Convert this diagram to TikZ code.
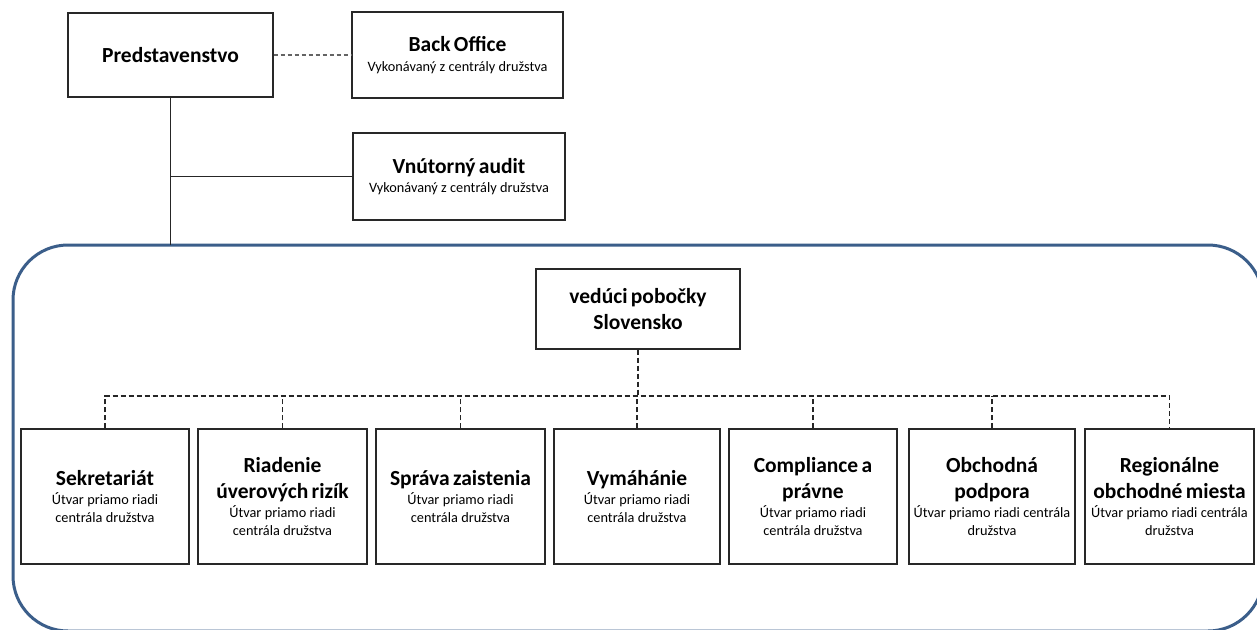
\documentclass[tikz,border=0pt]{standalone}
\usepackage{fontspec}
\setmainfont{Carlito}
\definecolor{frameblue}{RGB}{59,94,138}
\definecolor{boxline}{RGB}{40,40,40}
\definecolor{topdash}{RGB}{100,100,100}
\newcommand{\ttlfont}{\bfseries\fontsize{21.5}{25.5}\selectfont}
\newcommand{\subfont}{\fontsize{14.3}{17.5}\selectfont}
\tikzset{
  orgbox/.style={draw=boxline, line width=1.4pt, fill=white, inner sep=2pt,
    align=center, anchor=center},
  wbox/.style 2 args={orgbox, minimum width=#1pt, text width=#1pt-8pt, minimum height=#2pt},
  solidline/.style={draw=black!85, line width=1.2pt},
  busline/.style={draw=black!85, line width=1.3pt, dash pattern=on 5pt off 3pt},
  greydash/.style={draw=topdash, line width=1.5pt, dash pattern=on 4pt off 3pt},
  frame/.style={draw=frameblue, line width=3pt, rounded corners=55pt}
}
\begin{document}
\begin{tikzpicture}[x=1pt,y=-1pt]
\useasboundingbox (0,0) rectangle (1257,629);
\clip (0,0) rectangle (1257,629);
\fill[white] (0,0) rectangle (1257,629);

% blue frame
\draw[frame] (13,245) rectangle (1263,631);

% top boxes
\node[wbox={205}{84}] (pred) at (170.5,55)
  {\ttlfont Predstavenstvo\par};
\node[wbox={211}{86}] (back) at (457.5,55)
  {{\ttlfont Back Office\par}\vspace{2pt}{\subfont Vykonávaný z centrály družstva\par}};
\node[wbox={212}{87}] (audit) at (459,176.5)
  {{\ttlfont Vnútorný audit\par}\vspace{2pt}{\subfont Vykonávaný z centrály družstva\par}};

\coordinate (tj) at (171,245);
\draw[greydash] (pred.east) -- (back.west);
\draw[solidline] (pred.south) -- (pred.south |- tj);
\draw[solidline] (pred.south |- audit.west) -- (audit.west);

% head of branch
\node[wbox={204}{80}] (ved) at (638,309)
  {\ttlfont vedúci pobočky\\ Slovensko\par};

% bottom boxes
\node[wbox={168}{135}] (b1) at (105,496.5)
  {{\ttlfont Sekretariát\par}\vspace{2pt}{\subfont Útvar priamo riadi\\ centrála družstva\par}};
\node[wbox={169}{135}] (b2) at (282.5,496.5)
  {{\ttlfont Riadenie\\ úverových rizík\par}\vspace{2pt}{\subfont Útvar priamo riadi\\ centrála družstva\par}};
\node[wbox={169}{135}] (b3) at (460.5,496.5)
  {{\ttlfont Správa zaistenia\par}\vspace{2pt}{\subfont Útvar priamo riadi\\ centrála družstva\par}};
\node[wbox={166}{135}] (b4) at (637,496.5)
  {{\ttlfont Vymáhánie\par}\vspace{2pt}{\subfont Útvar priamo riadi\\ centrála družstva\par}};
\node[wbox={168}{135}] (b5) at (813,496.5)
  {{\ttlfont Compliance a\\ právne\par}\vspace{2pt}{\subfont Útvar priamo riadi\\ centrála družstva\par}};
\node[wbox={166}{135}] (b6) at (992,496.5)
  {{\ttlfont Obchodná\\ podpora\par}\vspace{2pt}{\subfont Útvar priamo riadi centrála\\ družstva\par}};
\node[wbox={169}{135}] (b7) at (1169.5,496.5)
  {{\ttlfont Regionálne\\ obchodné miesta\par}\vspace{2pt}{\subfont Útvar priamo riadi centrála\\ družstva\par}};

% dashed bus
\coordinate (bus) at (0,396);
\draw[busline] (ved.south) -- (ved.south |- bus);
\draw[busline] (b1.north) -- (b1.north |- bus) -- (b7.north |- bus) -- (b7.north);
\foreach \b in {b2,b3,b4,b5,b6}{
  \draw[busline] (\b.north) -- (\b.north |- bus);
}
\end{tikzpicture}
\end{document}
